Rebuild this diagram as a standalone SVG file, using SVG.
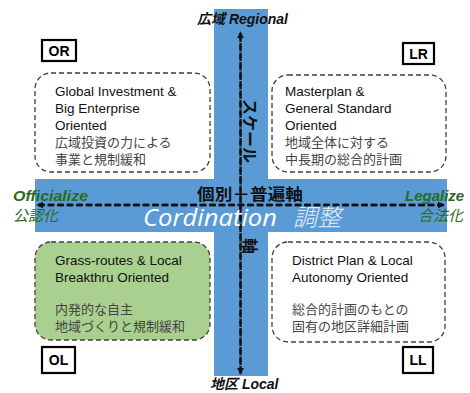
<svg xmlns="http://www.w3.org/2000/svg" width="470" height="393" viewBox="0 0 470 393">
<style>
.band{fill:#5b9bd5}
.qbox{fill:#fff;stroke:#404040;stroke-width:1.3;stroke-dasharray:5 3}
.qgreen{fill:#a9d08e;stroke:#404040;stroke-width:1.3;stroke-dasharray:5 3}
.tag{fill:#fff;stroke:#000;stroke-width:2.2}
.tagt{font-family:"Liberation Sans",Arial,sans-serif;font-weight:bold;font-size:14px;fill:#000;text-anchor:middle}
.en{font-family:"Liberation Sans",Arial,sans-serif;font-size:13.5px;fill:#111}
.jp{font-family:"Noto Sans CJK JP",sans-serif;font-size:13px;fill:#444}
.axis{fill:none;stroke:#111;stroke-width:2.3;stroke-dasharray:6 3.5}
.ax{font-family:"Liberation Sans","Noto Sans CJK JP",sans-serif;font-weight:bold;font-style:italic;font-size:14px;fill:#111}
.grn{font-family:"Liberation Sans","Noto Sans CJK JP",sans-serif;font-weight:bold;font-style:italic;font-size:15px;fill:#2b6a1c}
.grnj{font-family:"Noto Sans CJK JP",sans-serif;font-style:italic;font-size:15px;fill:#2b6a1c}
.axj{font-family:"Noto Sans CJK JP",sans-serif;font-weight:bold;font-size:16px;fill:#111}
</style>
<defs>
<marker id="ah" viewBox="0 0 10 10" refX="9" refY="5" markerWidth="3" markerHeight="3" orient="auto" markerUnits="strokeWidth">
<path d="M0,0 L10,5 L0,10 z" fill="#111"/>
</marker>
</defs>
<rect width="470" height="393" fill="#fff"/>
<g id="bands">
<rect class="band" x="214" y="9" width="54" height="367"/>
<rect class="band" x="35" y="179" width="412" height="53"/>
</g>
<g id="node-OR">
<rect class="qbox" x="35" y="73" width="175" height="99" rx="16"/>
<text class="en" x="55" y="96">Global Investment &amp;</text>
<text class="en" x="55" y="113">Big Enterprise</text>
<text class="en" x="55" y="130">Oriented</text>
<text class="jp" x="55" y="147">広域投資の力による</text>
<text class="jp" x="55" y="164">事業と規制緩和</text>
<rect class="tag" x="42" y="40" width="34" height="21"/>
<text class="tagt" x="59" y="56">OR</text>
</g>
<g id="node-LR">
<rect class="qbox" x="272" y="75" width="174" height="97" rx="16"/>
<text class="en" x="285" y="96">Masterplan &amp;</text>
<text class="en" x="285" y="113">General Standard</text>
<text class="en" x="285" y="130">Oriented</text>
<text class="jp" x="285" y="147">地域全体に対する</text>
<text class="jp" x="285" y="164">中長期の総合的計画</text>
<rect class="tag" x="403" y="43" width="31" height="21"/>
<text class="tagt" x="418.5" y="59">LR</text>
</g>
<g id="node-OL">
<rect class="qgreen" x="35" y="242" width="175" height="98" rx="16"/>
<text class="en" x="55" y="265">Grass-routes &amp; Local</text>
<text class="en" x="55" y="282">Breakthru Oriented</text>
<text class="jp" x="55" y="314">内発的な自主</text>
<text class="jp" x="55" y="331">地域づくりと規制緩和</text>
<rect class="tag" x="42" y="347" width="33" height="26"/>
<text class="tagt" x="58.5" y="365">OL</text>
</g>
<g id="node-LL">
<rect class="qbox" x="272" y="242" width="173" height="100" rx="16"/>
<text class="en" x="292" y="265">District Plan &amp; Local</text>
<text class="en" x="292" y="282">Autonomy Oriented</text>
<text class="jp" x="292" y="314">総合的計画のもとの</text>
<text class="jp" x="292" y="331">固有の地区詳細計画</text>
<rect class="tag" x="403" y="347" width="30" height="26"/>
<text class="tagt" x="418" y="365">LL</text>
</g>
<g id="connectors">
<line class="axis" x1="240.5" y1="372" x2="240.5" y2="32" marker-end="url(#ah)"/>
<line class="axis" x1="240.5" y1="36" x2="240.5" y2="374" marker-end="url(#ah)"/>
<line class="axis" x1="444" y1="205" x2="37" y2="205" marker-end="url(#ah)"/>
<line class="axis" x1="38" y1="205" x2="444" y2="205" marker-end="url(#ah)"/>
</g>
<g id="labels">
<text class="ax" x="197" y="24">広域 Regional</text>
<text class="ax" x="210" y="389">地区 Local</text>
<text class="grn" x="13" y="201" textLength="75" lengthAdjust="spacingAndGlyphs">Officialize</text>
<text class="grnj" x="13" y="221">公認化</text>
<text class="grn" x="405" y="201">Legalize</text>
<text class="grnj" x="418" y="221">合法化</text>
<text class="axj" x="197" y="200" textLength="106" lengthAdjust="spacingAndGlyphs">個別－普遍軸</text>
<text class="axj" transform="translate(244,99) rotate(90)" font-size="17">スケール</text>
<text class="axj" transform="translate(244,238) rotate(90)" font-size="17">軸</text>
<text x="143" y="226" font-family="'Open Sans','Liberation Sans',sans-serif" font-style="italic" font-size="24" fill="#fff" textLength="134" lengthAdjust="spacingAndGlyphs">Cordination</text>
<text x="293" y="226" font-family="'Noto Sans CJK JP',sans-serif" font-style="italic" font-weight="300" font-size="24" fill="#e4edf7">調整</text>
</g>
</svg>
